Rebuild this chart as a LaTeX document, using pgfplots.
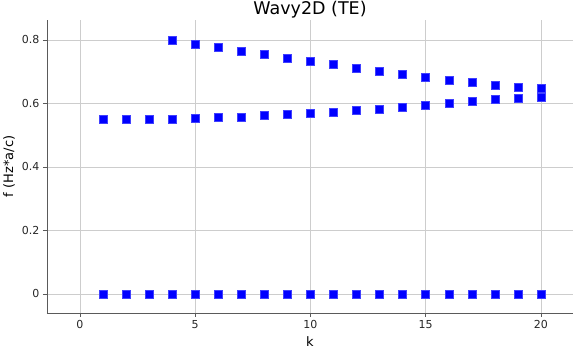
\documentclass[border=0pt]{standalone}
\usepackage{pgfplots}
\pgfplotsset{compat=1.18}
\usepackage{fontspec}
\setmainfont{DejaVu Sans}
\definecolor{gridc}{RGB}{205,205,205}
\definecolor{axc}{RGB}{90,90,90}
\begin{document}
\begin{tikzpicture}[x=1pt,y=1pt]
\path[use as bounding box] (-47,-39) rectangle (526,313);
\begin{axis}[
  at={(0,0)}, anchor=south west,
  scale only axis, width=526pt, height=293pt,
  xmin=-1.43, xmax=21.39, ymin=-0.06, ymax=0.863,
  axis lines*=left,
  axis line style={axc, line width=0.8pt},
  xtick={0,5,10,15,20},
  ytick={0,0.2,0.4,0.6,0.8},
  yticklabels={0,0.2,0.4,0.6,0.8},
  tick align=outside,
  major tick length=4pt,
  tick style={axc, line width=0.6pt},
  grid=major,
  major grid style={gridc, line width=0.8pt},
  /pgf/number format/assume math mode=true,
  ticklabel style={font=\fontsize{11}{13}\selectfont, text=black!85},
  every axis title shift=0pt,
  title={Wavy2D (TE)},
  title style={at={(axis description cs:0.5,1.0341)}, anchor=center, font=\fontsize{17.5}{20}\selectfont},
  xlabel={k},
  xlabel style={at={(axis description cs:0.5,-0.116)}, anchor=base, font=\fontsize{13}{15}\selectfont},
  ylabel={f (Hz*a/c)},
  ylabel style={at={(axis description cs:-0.0722,0.5)}, anchor=center, font=\fontsize{13}{15}\selectfont},
  clip=false,
]
\addplot[only marks, mark=square*, mark size=4pt, mark options={draw=blue!75!white, fill=blue, line width=0.5pt}]
coordinates {(1,0)(2,0)(3,0)(4,0)(5,0)(6,0)(7,0)(8,0)(9,0)(10,0)(11,0)(12,0)(13,0)(14,0)(15,0)(16,0)(17,0)(18,0)(19,0)(20,0)};
\addplot[only marks, mark=square*, mark size=4pt, mark options={draw=blue!75!white, fill=blue, line width=0.5pt}]
coordinates {(1,0.549)(2,0.549)(3,0.550)(4,0.551)(5,0.553)(6,0.556)(7,0.558)(8,0.562)(9,0.565)(10,0.568)(11,0.572)(12,0.579)(13,0.583)(14,0.589)(15,0.594)(16,0.600)(17,0.607)(18,0.613)(19,0.618)(20,0.620)};
\addplot[only marks, mark=square*, mark size=4pt, mark options={draw=blue!75!white, fill=blue, line width=0.5pt}]
coordinates {(4,0.799)(5,0.788)(6,0.777)(7,0.765)(8,0.755)(9,0.743)(10,0.733)(11,0.723)(12,0.712)(13,0.701)(14,0.692)(15,0.683)(16,0.673)(17,0.666)(18,0.657)(19,0.652)(20,0.649)};
\end{axis}
\end{tikzpicture}
\end{document}
